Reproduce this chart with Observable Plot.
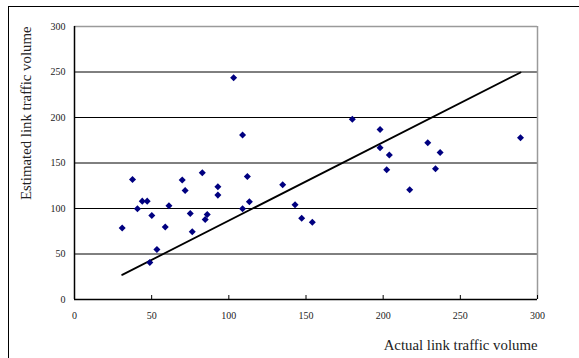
<!DOCTYPE html>
<html>
<head>
<meta charset="utf-8">
<script src="https://cdn.jsdelivr.net/npm/d3@7"></script>
<script src="https://cdn.jsdelivr.net/npm/@observablehq/plot@0.6"></script>
<style>
  html, body { margin: 0; padding: 0; background: #fff; overflow: hidden; }
  #wrap { position: relative; width: 579px; height: 358px; }
  #frame { position: absolute; left: 8px; top: 6px; width: 640px; height: 400px;
           border-left: 1.5px solid #000; border-top: 1.5px solid #000; pointer-events: none; }
  svg { position: absolute; left: 0; top: 0; }
</style>
</head>
<body>
<div id="wrap"><div id="frame"></div></div>
<script>
const actual = [30.9, 37.6, 40.8, 43.9, 47.1, 50.1, 48.8, 53.4, 58.8, 61.2,
  69.8, 71.7, 75.0, 76.3, 82.8, 84.7, 86.0, 92.9, 92.9, 103.1,
  108.9, 108.9, 112.0, 113.3, 134.9, 142.9, 147.2, 154.1, 180.0, 198.0,
  198.0, 204.0, 202.3, 217.2, 228.9, 236.9, 233.9, 289.0];
const estimated = [78.5, 131.9, 99.7, 108.1, 108.1, 92.3, 40.7, 55.0, 79.6, 103.0,
  131.2, 119.8, 94.5, 74.4, 139.2, 87.9, 93.4, 123.8, 114.7, 243.6,
  180.7, 99.7, 135.2, 107.4, 126.0, 104.1, 89.4, 85.0, 198.2, 186.8,
  166.7, 158.7, 142.5, 120.5, 172.2, 161.5, 143.6, 177.7];
const fitX = [30.9, 289.0];
const fitY = [27.1, 249.5];
const xTicks = [0, 50, 100, 150, 200, 250, 300];
const yTicks = [0, 50, 100, 150, 200, 250, 300];
const gridTicks = [50, 100, 150, 200, 250];
const xTitle = "Actual link traffic volume";
const yTitle = "Estimated link traffic volume";

const points = actual.map((a, i) => ({a, e: estimated[i]}));
const fit = fitX.map((x, i) => ({x, y: fitY[i]}));

const font = "'Liberation Serif', 'DejaVu Serif', serif";

const chart = Plot.plot({
  width: 579,
  height: 358,
  marginLeft: 74,
  marginRight: 42,
  marginTop: 26,
  marginBottom: 59,
  style: {fontFamily: font, background: "transparent", color: "#000"},
  x: {domain: [0, 300]},
  y: {domain: [0, 300]},
  marks: [
    Plot.gridY(gridTicks, {stroke: "#000", strokeOpacity: 1, strokeWidth: 1}),
    Plot.ruleY([300], {stroke: "#9a9a9a", strokeWidth: 1.5}),
    Plot.ruleX([300], {stroke: "#9a9a9a", strokeWidth: 1.5}),
    Plot.axisX(xTicks, {tickSize: -4, tickPadding: 16, fontSize: 10, label: null, stroke: "#000", fill: "#222"}),
    Plot.axisY(yTicks, {tickSize: 0, tickPadding: 9, fontSize: 10, label: null, fill: "#222"}),
    Plot.text([xTitle], {frameAnchor: "bottom-right", textAnchor: "end", lineAnchor: "bottom", dy: 50, fontSize: 14.8, fill: "#222"}),
    Plot.text([yTitle], {frameAnchor: "top-left", textAnchor: "end", lineAnchor: "bottom", rotate: -90, dx: -44, fontSize: 14.8, fill: "#222"}),
    Plot.ruleX([0], {stroke: "#000", strokeWidth: 1.5}),
    Plot.ruleY([0], {stroke: "#000", strokeWidth: 1.5}),
    Plot.line(fit, {x: "x", y: "y", stroke: "#000", strokeWidth: 1.8}),
    Plot.dot(points, {x: "a", y: "e", symbol: "square", rotate: 45, r: 2.8, fill: "#000080", stroke: "none"})
  ]
});
document.getElementById("wrap").appendChild(chart);
</script>
</body>
</html>
